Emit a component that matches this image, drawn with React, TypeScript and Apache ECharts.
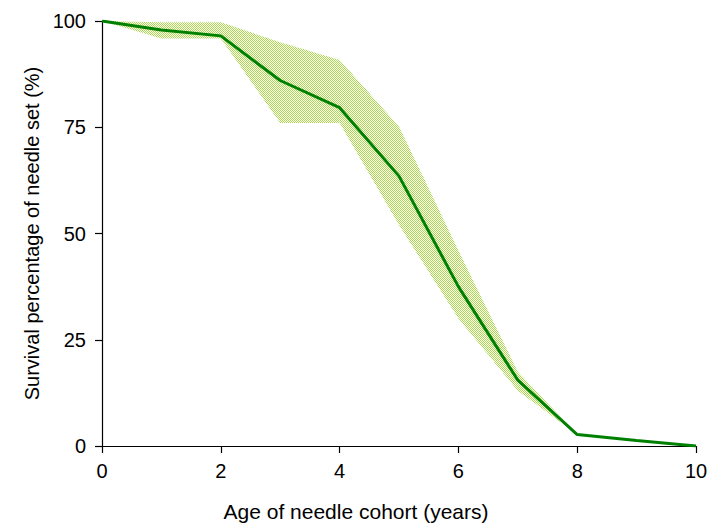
import React, { useEffect, useRef } from "react";
import * as echarts from "echarts";

const ages = [0, 1, 2, 3, 4, 5, 6, 7, 8, 9, 10];
const meanSurvival = [100, 97.9, 96.5, 86, 79.6, 63.5, 37.5, 15.5, 2.7, 1.3, 0];
const upperBound = [100, 99.7, 99.7, 95, 90.8, 75.2, 46, 17.5, 2.7, 1.3, 0];
const lowerBound = [100, 95.9, 95.9, 76, 76, 52, 30, 13, 2.7, 1.3, 0];
const xTicks = [0, 2, 4, 6, 8, 10];
const yTicks = [0, 25, 50, 75, 100];

function makePattern(): any {
  const c = document.createElement("canvas");
  c.width = 4;
  c.height = 4;
  const ctx = c.getContext("2d");
  if (!ctx) return "#d3e99f";
  ctx.fillStyle = "#ffffff";
  ctx.fillRect(0, 0, 4, 4);
  ctx.fillStyle = "#acd84c";
  for (let y = 0; y < 4; y++) {
    for (let x = 0; x < 4; x++) {
      if ((x + y) % 2 === 0) ctx.fillRect(x, y, 1, 1);
    }
  }
  return { image: c, repeat: "repeat" };
}

export default function App() {
  const ref = useRef<HTMLDivElement>(null);
  useEffect(() => {
    if (!ref.current) return;
    const chart = echarts.init(ref.current, undefined, { renderer: "svg" });
    const font = "'Liberation Sans', Arial, sans-serif";
    const pattern = makePattern();
    const meanData = ages.map((a, i) => [a, meanSurvival[i]]);
    chart.setOption({
      animation: false,
      backgroundColor: "#ffffff",
      grid: { left: 102, right: 20, top: 21, bottom: 82, containLabel: false },
      xAxis: {
        type: "value",
        min: xTicks[0],
        max: xTicks[xTicks.length - 1],
        interval: 2,
        name: "Age of needle cohort (years)",
        nameLocation: "middle",
        nameGap: 55,
        nameTextStyle: { fontFamily: font, fontSize: 21, color: "#000", padding: [0, 86, 0, 0] },
        axisLine: { show: true, lineStyle: { color: "#000", width: 1.2 } },
        axisTick: { show: true, length: 7, lineStyle: { color: "#000", width: 1.2 } },
        axisLabel: { margin: 15, fontFamily: font, fontSize: 20, color: "#000" },
        splitLine: { show: false },
      },
      yAxis: {
        type: "value",
        min: yTicks[0],
        max: yTicks[yTicks.length - 1],
        interval: 25,
        name: "Survival percentage of needle set (%)",
        nameLocation: "middle",
        nameGap: 57,
        nameTextStyle: { fontFamily: font, fontSize: 20, color: "#000" },
        axisLine: { show: true, lineStyle: { color: "#000", width: 1.2 } },
        axisTick: { show: true, length: 7, lineStyle: { color: "#000", width: 1.2 } },
        axisLabel: { margin: 16, fontFamily: font, fontSize: 20, color: "#000" },
        splitLine: { show: false },
      },
      series: [
        {
          type: "custom",
          coordinateSystem: "cartesian2d",
          data: [[0, 0]],
          silent: true,
          z: 1,
          renderItem: (_params: any, api: any) => {
            const pts: number[][] = [];
            for (let i = 0; i < ages.length; i++) pts.push(api.coord([ages[i], upperBound[i]]));
            for (let i = ages.length - 1; i >= 0; i--) pts.push(api.coord([ages[i], lowerBound[i]]));
            return {
              type: "polygon",
              shape: { points: pts },
              style: { fill: pattern, stroke: null },
            };
          },
        },
        {
          type: "line",
          data: meanData,
          symbol: "none",
          lineStyle: { color: "#008000", width: 3 },
          z: 3,
        },
      ],
    });
    return () => chart.dispose();
  }, []);
  return (
    <div
      ref={ref}
      style={{ position: "absolute", left: 0, top: 0, width: 716, height: 528 }}
    />
  );
}
